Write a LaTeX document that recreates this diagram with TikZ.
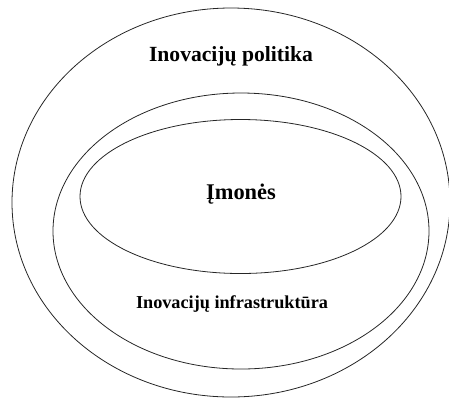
\documentclass[tikz,border=0pt]{standalone}
\usepackage{fontspec}
\setmainfont{Liberation Serif}
\begin{document}
\begin{tikzpicture}[x=1bp,y=-1bp,
  ring/.style={draw=black!85,line width=0.8bp},
  lbl/.style={font=\bfseries,text=black,inner sep=0pt,anchor=center}]
\useasboundingbox (0,0) rectangle (449,397);
% nested regions
\draw[ring] (231,202.5) ellipse [x radius=219,y radius=194.5];
\draw[ring] (241,231) ellipse [x radius=188,y radius=138];
\draw[ring] (240.5,196.5) ellipse [x radius=160.5,y radius=77];
% labels
\node[lbl,font=\fontsize{21.7}{24}\bfseries] (pol) at (231,56) {Inovacijų politika};
\node[lbl,font=\fontsize{22.5}{24}\bfseries] (imo) at (241,194) {Įmonės};
\node[lbl,font=\fontsize{18.3}{20}\bfseries] (inf) at (232,304) {Inovacijų infrastruktūra};
\end{tikzpicture}
\end{document}
